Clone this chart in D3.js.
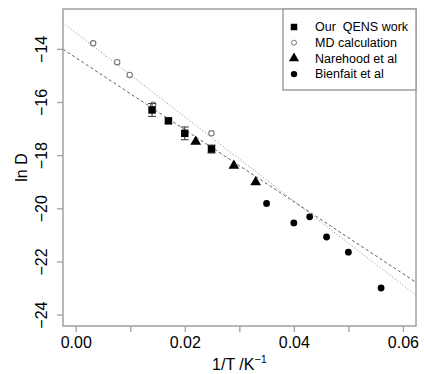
<!DOCTYPE html>
<html>
<head>
<meta charset="utf-8">
<script src="https://cdn.jsdelivr.net/npm/d3@7"></script>
<style>
  body { margin: 0; background: #fff; }
  text { font-family: "Liberation Sans", Arial, sans-serif; }
</style>
</head>
<body>
<div id="chart"></div>
<script>
// data (x = 1/T, y = ln D)
const qensX = [0.0140, 0.0170, 0.0200, 0.0249];
const qensY = [-16.30, -16.71, -17.18, -17.77];
const qensErr = [0.24, 0.0, 0.24, 0.15];

const mdX = [0.0032, 0.0076, 0.0099, 0.0142, 0.0249];
const mdY = [-13.79, -14.50, -14.98, -16.10, -17.18];

const narehoodX = [0.0220, 0.0290, 0.0330];
const narehoodY = [-17.49, -18.40, -19.02];

const bienfaitX = [0.0350, 0.0400, 0.0429, 0.0460, 0.0500, 0.0560];
const bienfaitY = [-19.82, -20.55, -20.32, -21.08, -21.65, -23.00];

// fitted lines: [intercept, slope]
const fitDashed = [-14.33, -135.5];
const fitDotted = [-13.39, -158.4];

const xTicks = [0, 0.01, 0.02, 0.03, 0.04, 0.05, 0.06];
const xLabels = ["0.00", "", "0.02", "", "0.04", "", "0.06"];
const yTicks = [-14, -16, -18, -20, -22, -24];

const legendNames = ["Our  QENS work", "MD calculation", "Narehood et al", "Bienfait et al"];

const width = 424, height = 374;
const margin = {left: 63, right: 8, top: 9, bottom: 48};

const svg = d3.select("#chart").append("svg")
  .attr("width", width)
  .attr("height", height);

const x = d3.scaleLinear()
  .domain([-0.00233, 0.0624])
  .range([margin.left, width - margin.right]);

const y = d3.scaleLinear()
  .domain([-24.43, -12.5])
  .range([height - margin.bottom, margin.top]);

const axisColor = "#a0a0a0";

// clip for lines
svg.append("clipPath").attr("id", "plotclip")
  .append("rect")
  .attr("x", x.range()[0]).attr("y", y.range()[1])
  .attr("width", x.range()[1] - x.range()[0])
  .attr("height", y.range()[0] - y.range()[1]);

// x axis
const xAxis = svg.append("g")
  .attr("transform", `translate(0,${y.range()[0]})`)
  .call(d3.axisBottom(x).tickValues(xTicks).tickSize(6).tickPadding(5)
    .tickFormat((d, i) => xLabels[i]));
xAxis.select(".domain").remove();
xAxis.selectAll("line").attr("stroke", axisColor).attr("stroke-width", 1.3);
xAxis.selectAll("text")
  .attr("fill", "#000")
  .style("font-size", "16px");

// y axis
const yAxis = svg.append("g")
  .attr("transform", `translate(${x.range()[0]},0)`)
  .call(d3.axisLeft(y).tickValues(yTicks).tickSize(6)
    .tickFormat(d => d3.format("d")(d).replace("-", "\u2212")));
yAxis.select(".domain").remove();
yAxis.selectAll("line").attr("stroke", axisColor).attr("stroke-width", 1.3);
yAxis.selectAll("text")
  .attr("fill", "#000")
  .style("font-size", "16px")
  .attr("x", null).attr("dy", null)
  .attr("text-anchor", "middle")
  .attr("transform", "translate(-16,0) rotate(-90)");

// fit lines
const xs = x.domain();
function fitPts(f) { return xs.map(v => [v, f[0] + f[1] * v]); }
const line = d3.line().x(d => x(d[0])).y(d => y(d[1]));

svg.append("path")
  .attr("d", line(fitPts(fitDotted)))
  .attr("clip-path", "url(#plotclip)")
  .attr("fill", "none")
  .attr("stroke", "#9a9a9a")
  .attr("stroke-width", 1)
  .attr("stroke-dasharray", "1.2,2");

svg.append("path")
  .attr("d", line(fitPts(fitDashed)))
  .attr("clip-path", "url(#plotclip)")
  .attr("fill", "none")
  .attr("stroke", "#606060")
  .attr("stroke-width", 1)
  .attr("stroke-dasharray", "3,2.5");

// box
svg.append("rect")
  .attr("x", x.range()[0]).attr("y", y.range()[1])
  .attr("width", x.range()[1] - x.range()[0])
  .attr("height", y.range()[0] - y.range()[1])
  .attr("fill", "none")
  .attr("stroke", axisColor)
  .attr("stroke-width", 1.5);

// symbols
const symSquare = d3.symbol().type(d3.symbolSquare).size(56);
const symTri = d3.symbol().type(d3.symbolTriangle).size(50);

// MD open circles
svg.append("g").selectAll("circle")
  .data(d3.zip(mdX, mdY))
  .join("circle")
  .attr("cx", d => x(d[0])).attr("cy", d => y(d[1]))
  .attr("r", 2.7)
  .attr("fill", "#fff")
  .attr("stroke", "#777")
  .attr("stroke-width", 1.1);

// QENS error bars + squares
const qens = svg.append("g");
const qensData = d3.zip(qensX, qensY, qensErr);
qens.selectAll("g.err")
  .data(qensData.filter(d => d[2] > 0))
  .join("g").attr("class", "err")
  .each(function(d) {
    const g = d3.select(this);
    const cx = x(d[0]);
    g.append("line").attr("x1", cx).attr("x2", cx)
      .attr("y1", y(d[1] - d[2])).attr("y2", y(d[1] + d[2]));
    g.append("line").attr("x1", cx - 4).attr("x2", cx + 4)
      .attr("y1", y(d[1] - d[2])).attr("y2", y(d[1] - d[2]));
    g.append("line").attr("x1", cx - 4).attr("x2", cx + 4)
      .attr("y1", y(d[1] + d[2])).attr("y2", y(d[1] + d[2]));
  })
  .selectAll("line").attr("stroke", "#333").attr("stroke-width", 1);
qens.selectAll("path")
  .data(qensData)
  .join("path")
  .attr("d", symSquare)
  .attr("transform", d => `translate(${x(d[0])},${y(d[1])})`)
  .attr("fill", "#000");

// Narehood triangles
svg.append("g").selectAll("path")
  .data(d3.zip(narehoodX, narehoodY))
  .join("path")
  .attr("d", symTri)
  .attr("transform", d => `translate(${x(d[0])},${y(d[1])})`)
  .attr("fill", "#000");

// Bienfait filled circles
svg.append("g").selectAll("circle")
  .data(d3.zip(bienfaitX, bienfaitY))
  .join("circle")
  .attr("cx", d => x(d[0])).attr("cy", d => y(d[1]))
  .attr("r", 3.4)
  .attr("fill", "#000");

// legend
const lx = 283, ly = y.range()[1];
const lw = x.range()[1] - lx, lh = 81;
const legend = svg.append("g");
legend.append("rect")
  .attr("x", lx).attr("y", ly)
  .attr("width", lw).attr("height", lh)
  .attr("fill", "#fff")
  .attr("stroke", axisColor)
  .attr("stroke-width", 1.5);

const rows = legend.selectAll("g.row")
  .data(legendNames)
  .join("g").attr("class", "row")
  .attr("transform", (d, i) => `translate(${lx + 11},${ly + 18 + i * 15.7})`);

rows.each(function(d, i) {
  const g = d3.select(this);
  if (i === 0) g.append("path").attr("d", d3.symbol().type(d3.symbolSquare).size(42)).attr("fill", "#000");
  if (i === 1) g.append("circle").attr("r", 2.5).attr("fill", "#fff").attr("stroke", "#777");
  if (i === 2) g.append("path").attr("d", d3.symbol().type(d3.symbolTriangle).size(45)).attr("fill", "#000");
  if (i === 3) g.append("circle").attr("r", 3.2).attr("fill", "#000");
});
rows.append("text")
  .attr("x", 21)
  .attr("dy", "0.35em")
  .style("font-size", "12.5px")
  .style("white-space", "pre")
  .attr("fill", "#000")
  .text(d => d);

// axis titles
const xt = svg.append("text")
  .attr("x", (x.range()[0] + x.range()[1]) / 2)
  .attr("y", 370)
  .attr("text-anchor", "middle")
  .style("font-size", "16px")
  .attr("fill", "#000");
xt.append("tspan").text("1/T /K");
xt.append("tspan").attr("dy", -7).style("font-size", "11px").text("\u22121");

svg.append("text")
  .attr("transform", `translate(27,${(y.range()[0] + y.range()[1]) / 2}) rotate(-90)`)
  .attr("text-anchor", "middle")
  .style("font-size", "16px")
  .attr("fill", "#000")
  .text("ln D");
</script>
</body>
</html>
